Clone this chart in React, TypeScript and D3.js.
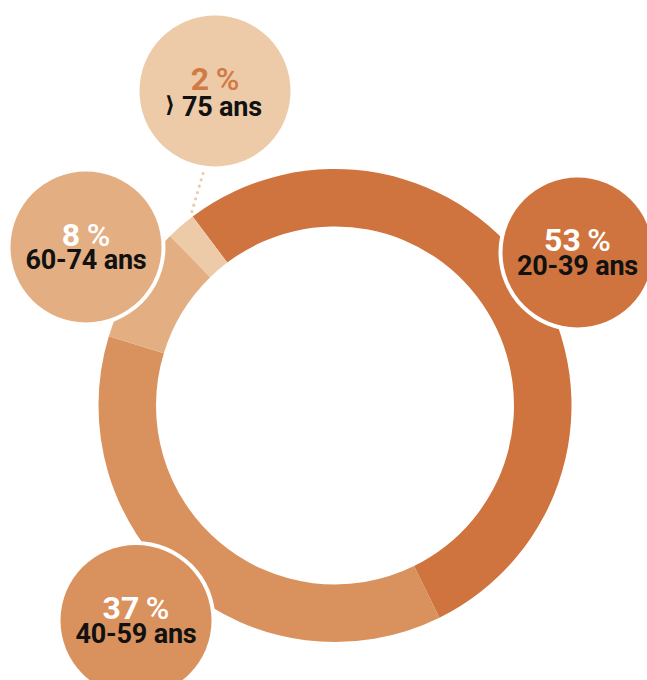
import React from "react";
import * as d3 from "d3";

const categories = ["20-39 ans", "40-59 ans", "60-74 ans", "75 ans"];
const values = [53, 37, 8, 2];
const colors = ["#CF743F", "#D9915D", "#E3AE82", "#EDCAA8"];

// bubble layout (position in px, not data)
const bubbles = [
  { cx: 577.5, cy: 252.5, r: 75, pctColor: "#FFFFFF" },
  { cx: 136, cy: 620.5, r: 75.5, pctColor: "#FFFFFF" },
  { cx: 86, cy: 247, r: 75.5, pctColor: "#FFFFFF" },
  { cx: 215, cy: 91, r: 75.5, pctColor: "#D07A45" },
];

const W = 647;
const H = 680;
const CX = 335;
const CY = 405.5;
const R_OUT = 236.5;
const R_IN = 179;

export default function App() {
  const start = (-37 * Math.PI) / 180;
  const pie = d3
    .pie<number>()
    .sort(null)
    .value((d) => d)
    .startAngle(start)
    .endAngle(start + 2 * Math.PI);
  const arcs = pie(values);
  const arc = d3.arc<d3.PieArcDatum<number>>().innerRadius(R_IN).outerRadius(R_OUT);

  const small = arcs[3];
  const lx2 = CX + Math.sin(small.endAngle - 0.01) * (R_OUT + 1);
  const ly2 = CY - Math.cos(small.endAngle - 0.01) * (R_OUT + 1);

  const font = "Roboto, 'Noto Sans', sans-serif";

  return (
    <svg
      width={W}
      height={H}
      viewBox={`0 0 ${W} ${H}`}
      style={{ position: "absolute", left: 0, top: 0, display: "block" }}
    >
      <rect width={W} height={H} fill="#FFFFFF" />
      <g transform={`translate(${CX},${CY})`}>
        {arcs.map((a, i) => (
          <path key={i} d={arc(a) as string} fill={colors[i]} />
        ))}
      </g>
      <line
        x1={bubbles[3].cx - 12}
        y1={bubbles[3].cy + bubbles[3].r + 7}
        x2={lx2}
        y2={ly2}
        stroke={colors[3]}
        strokeWidth={3.2}
        strokeLinecap="round"
        strokeDasharray="0 6.6"
      />
      {bubbles.map((b, i) => (
        <g key={i}>
          <circle cx={b.cx} cy={b.cy} r={b.r + 4} fill="#FFFFFF" />
          <circle cx={b.cx} cy={b.cy} r={b.r} fill={colors[i]} />
          <text
            x={b.cx}
            y={b.cy - 1.5}
            textAnchor="middle"
            fontFamily={font}
            fontSize={32}
            fontWeight={700}
            fill={b.pctColor}
          >
            {values[i]}
            <tspan fontWeight={500}>{"\u2009%"}</tspan>
          </text>
          {i === 3 ? (
            <>
              <text
                x={b.cx - 50}
                y={b.cy + 20.5}
                fontFamily="'DejaVu Sans', sans-serif"
                fontSize={22}
                fontWeight={700}
                fill="#111111"
              >
                {"\u27E9"}
              </text>
              <text
                x={b.cx + 7}
                y={b.cy + 24.5}
                textAnchor="middle"
                fontFamily={font}
                fontSize={27}
                fontWeight={700}
                fill="#111111"
                letterSpacing={-0.2}
              >
                {categories[i]}
              </text>
            </>
          ) : (
            <text
              x={b.cx}
              y={b.cy + 22}
              textAnchor="middle"
              fontFamily={font}
              fontSize={27}
              fontWeight={700}
              fill="#111111"
              letterSpacing={-0.2}
            >
              {categories[i]}
            </text>
          )}
        </g>
      ))}
    </svg>
  );
}
